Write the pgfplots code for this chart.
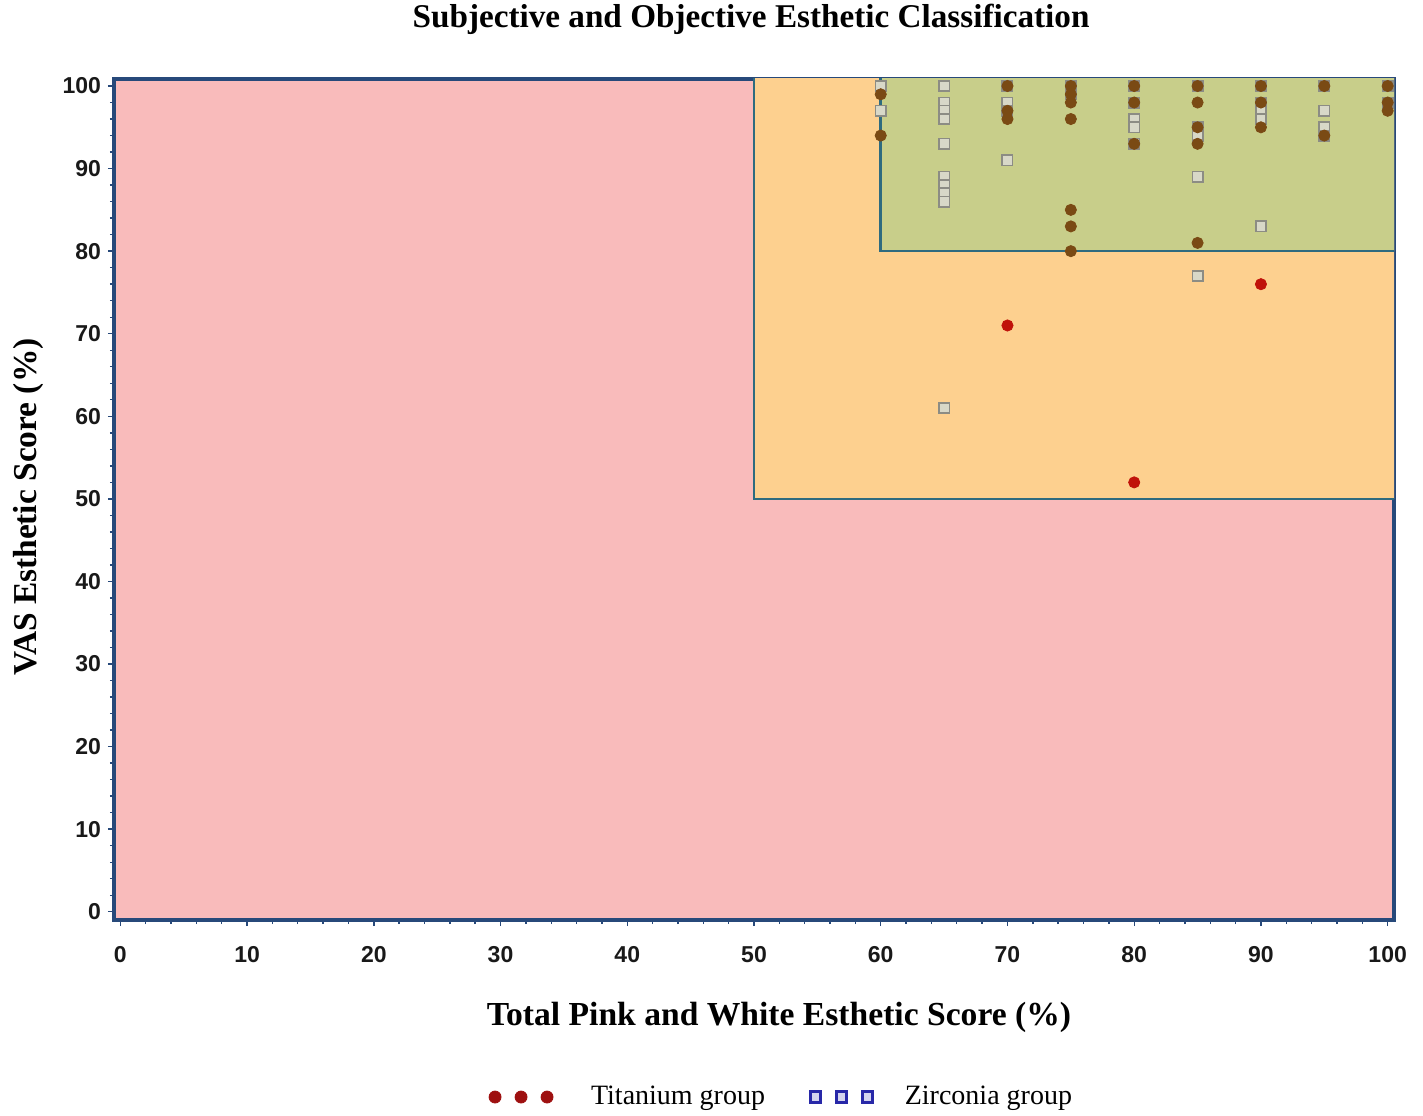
\documentclass[border=0pt]{standalone}
\usepackage{pgfplots}
\pgfplotsset{compat=1.18}
\usepackage{fontspec}
\setmainfont{Liberation Serif}
\setsansfont{Liberation Sans}
\definecolor{bgpink}{HTML}{F9BBBB}
\definecolor{bgorange}{HTML}{FDD08F}
\definecolor{bggreen}{HTML}{C8CE8A}
\definecolor{framecol}{HTML}{27497A}
\definecolor{boxcol}{HTML}{2E6B7F}
\definecolor{tibrown}{HTML}{7A4A14}
\definecolor{tired}{HTML}{C0120A}
\definecolor{zrgray}{HTML}{8C8C84}
\definecolor{zrfill}{HTML}{D8D8C8}
\definecolor{legred}{HTML}{9E1010}
\definecolor{legblue}{HTML}{2828A8}
\pgfplotsset{
  three marks legend/.style={legend image code/.code={\draw[mark repeat=1, mark phase=1, only marks, ##1] plot coordinates {(0pt,0pt) (13pt,0pt) (26pt,0pt)};}}
}
\begin{document}
\begin{tikzpicture}
\path[use as bounding box] (-57pt,-97.5pt) rectangle (654.5pt,460pt);
\begin{axis}[
  at={(0,0)}, anchor=south west,
  scale only axis, width=640pt, height=420.5pt,
  xmin=-0.5, xmax=100.5, ymin=-1, ymax=100.85,
  xtick={0,10,...,100}, ytick={0,10,...,100},
  minor tick num=4,
  tick align=outside, tick pos=left,
  major tick length=3pt, minor tick length=2pt,
  tick style={color=framecol, line width=0.7pt},
  axis line style={color=framecol, line width=1.6pt},
  axis background/.style={fill=bgpink},
  /pgf/number format/assume math mode=true,
  tick label style={font=\sffamily\bfseries\fontsize{11.5}{13}\selectfont, text=black!90},
  xticklabel style={yshift=-6.5pt},
  yticklabel style={xshift=0pt},
  every axis title shift=0pt,
  title={Subjective and Objective Esthetic Classification},
  title style={font=\bfseries\fontsize{16.6}{19}\selectfont, at={(axis description cs:0.4977,1.071)}, anchor=center},
  xlabel={Total Pink and White Esthetic Score (\%)},
  xlabel style={font=\bfseries\fontsize{16.8}{20}\selectfont, at={(axis description cs:0.5195,-0.1153)}, anchor=center},
  ylabel={VAS Esthetic Score (\%)},
  ylabel style={font=\bfseries\fontsize{16.7}{20}\selectfont, at={(axis description cs:-0.0672,0.491)}, anchor=center},
  legend columns=2,
  legend style={draw=none, fill=none, at={(axis description cs:0.5223,-0.2105)}, anchor=center,
    font=\fontsize{14}{16}\selectfont,
    /tikz/every even column/.append style={column sep=20.5pt}},
  clip=true,
]
% regions
\addplot[fill=bgorange, draw=boxcol, line width=1.3pt, forget plot]
  coordinates {(50,101.5) (50,50) (101.5,50) (101.5,101.5)} -- cycle;
\addplot[fill=bggreen, draw=boxcol, line width=1.3pt, forget plot]
  coordinates {(60,101.5) (60,80) (101.5,80) (101.5,101.5)} -- cycle;
% Zirconia group
\addplot[only marks, mark=square*, mark size=2.6pt, draw=zrgray, fill=zrfill, line width=0.8pt, forget plot]
  table {
x y
60 100
60 97
65 100
65 98
65 97
65 96
65 93
65 89
65 88
65 87
65 86
65 61
70 100
70 98
70 97
70 91
75 100
75 99
80 100
80 98
80 96
80 95
80 93
85 100
85 95
85 94
85 89
85 77
90 100
90 98
90 97
90 96
90 83
95 100
95 97
95 95
95 94
100 100
100 98
};
% Titanium group (green region)
\addplot[only marks, mark=*, mark size=2.8pt, color=tibrown, forget plot]
  table {
x y
60 99
60 94
70 100
70 97
70 96
75 100
75 99
75 98
75 96
75 85
75 83
75 80
80 100
80 98
80 93
85 100
85 98
85 95
85 93
85 81
90 100
90 98
90 95
95 100
95 94
100 100
100 98
100 97
};
% Titanium group (orange region)
\addplot[only marks, mark=*, mark size=2.8pt, color=tired, forget plot]
  table {
x y
70 71
80 52
90 76
};
\addlegendimage{only marks, mark=*, mark size=3pt, color=legred, three marks legend}
\addlegendentry{\hspace{17pt}Titanium group}
\addlegendimage{only marks, mark=square*, mark size=2.7pt, draw=legblue, fill=white!80!legblue, line width=1.5pt, three marks legend}
\addlegendentry{\hspace{14pt}Zirconia group}
\end{axis}
\end{tikzpicture}
\end{document}
